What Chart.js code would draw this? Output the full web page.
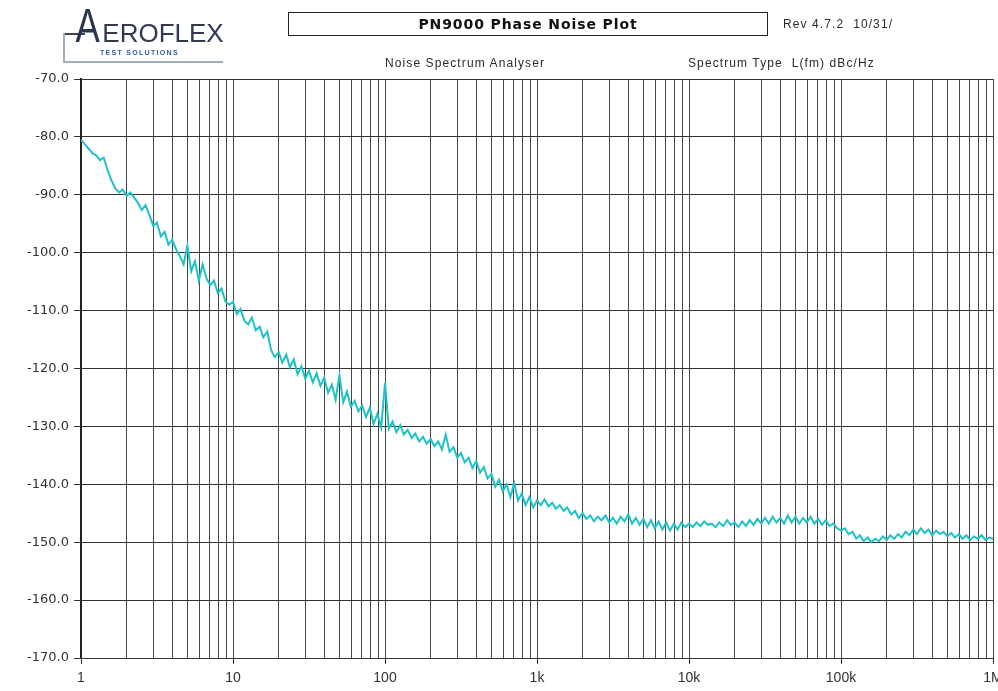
<!DOCTYPE html>
<html>
<head>
<meta charset="utf-8">
<title>PN9000 Phase Noise Plot</title>
<script src="https://cdn.jsdelivr.net/npm/chart.js"></script>
<style>
    html, body { margin: 0; padding: 0; background: #fff; }
    #wrap { position: relative; width: 998px; height: 691px; overflow: hidden; }
    #plot { position: absolute; left: 0; top: 0; }
    .txt { position: absolute; white-space: nowrap; color: #2b2b2b; font-family: "Liberation Sans", Arial, sans-serif; z-index: 2; }
    .line { position: absolute; z-index: 2; }
</style>
</head>
<body>
<div id="wrap">
    <canvas id="plot" width="998" height="691"></canvas>

    <!-- logo -->
    <div class="line" style="left:63px; top:33px; width:22px; height:2px; background:#3d4457;"></div>
    <div class="line" style="left:63px; top:33px; width:2px; height:30px; background:#9db0c2;"></div>
    <div class="line" style="left:63px; top:61px; width:160px; height:2px; background:#9db0c2;"></div>
    <div class="txt" style="left:75px; top:20px; font-size:26px; line-height:26px; color:#333a50;"><span style="display:inline-block; margin:0 6px 0 4px; transform:scale(1.4,1.85); transform-origin:50% 85%; color:#2c3550;">A</span>EROFLEX</div>
    <div class="txt" style="left:100px; top:49px; font-size:7px; line-height:8px; font-weight:bold; letter-spacing:1.3px; color:#2f5da8;">TEST SOLUTIONS</div>

    <!-- header -->
    <div class="txt" style="left:288px; top:12px; width:478px; height:22px; border:1.5px solid #222; text-align:center; font-family:'DejaVu Sans', sans-serif; font-weight:bold; font-size:14px; line-height:22px; letter-spacing:0.9px; color:#111;">PN9000 Phase Noise Plot</div>
    <div class="txt" style="left:783px; top:17px; font-size:12px; line-height:14px; letter-spacing:1.1px;">Rev 4.7.2&nbsp;&nbsp;10/31/</div>
    <div class="txt" style="left:385px; top:56px; font-size:12px; line-height:14px; letter-spacing:1.1px;">Noise Spectrum Analyser</div>
    <div class="txt" style="left:688px; top:56px; font-size:12px; line-height:14px; letter-spacing:1.1px;">Spectrum Type&nbsp;&nbsp;L(fm) dBc/Hz</div>
</div>

<script>
// offset frequency sample steps, same in every decade
const steps = [1.00, 1.06, 1.12, 1.19, 1.26, 1.33, 1.41, 1.50, 1.58, 1.68,
               1.78, 1.88, 2.00, 2.11, 2.24, 2.37, 2.51, 2.66, 2.82, 2.99,
               3.16, 3.35, 3.55, 3.76, 3.98, 4.22, 4.47, 4.73, 5.01, 5.31,
               5.62, 5.96, 6.31, 6.68, 7.08, 7.50, 7.94, 8.41, 8.91, 9.44];
const decades = [1, 10, 100, 1000, 10000, 100000];

// L(fm) in dBc/Hz, one list per decade
const level1 = [-80.5, -81.3, -82.0, -82.8, -83.2, -84.0, -83.6, -85.8, -87.4, -88.9,
                -89.6, -89.1, -90.2, -89.6, -90.5, -91.4, -92.6, -91.8, -93.5, -95.4,
                -94.8, -97.2, -96.4, -98.6, -97.8, -99.4, -100.6, -102.0, -98.8, -103.2,
                -101.5, -104.8, -102.0, -104.4, -105.6, -104.8, -107.0, -106.2, -108.4, -109.0];
const level2 = [-108.5, -110.6, -109.7, -111.8, -112.4, -111.2, -113.4, -112.8, -114.6, -113.6,
                -116.8, -118.0, -117.2, -119.0, -117.6, -119.8, -118.4, -121.0, -119.6, -121.8,
                -120.4, -122.4, -120.8, -123.0, -121.6, -124.2, -122.8, -125.4, -121.2, -125.8,
                -124.0, -126.6, -125.6, -127.4, -126.4, -128.4, -126.8, -129.6, -127.8, -130.2];
const level3 = [-122.5, -130.4, -129.2, -131.0, -129.8, -131.4, -130.6, -132.0, -131.2, -132.6,
                -131.8, -133.0, -132.2, -133.4, -132.6, -134.0, -131.4, -134.4, -133.6, -135.4,
                -134.6, -136.2, -135.4, -137.2, -136.0, -138.0, -137.0, -139.0, -138.2, -140.4,
                -139.2, -141.2, -140.0, -142.2, -139.8, -142.8, -141.6, -143.6, -142.2, -144.0];
const level4 = [-142.8, -143.6, -142.6, -143.8, -143.2, -144.2, -143.6, -144.6, -144.0, -145.2,
                -144.6, -145.8, -145.0, -146.0, -145.4, -146.4, -145.6, -146.2, -145.4, -146.6,
                -145.8, -146.8, -145.6, -146.4, -145.2, -146.8, -145.8, -147.0, -146.0, -147.4,
                -146.2, -147.6, -146.4, -147.8, -146.6, -148.0, -146.8, -147.8, -146.6, -147.4];
const level5 = [-146.8, -147.4, -146.6, -147.2, -146.4, -147.0, -146.8, -147.4, -146.6, -147.2,
                -146.2, -147.0, -146.6, -147.4, -146.4, -147.2, -146.2, -147.0, -146.0, -146.8,
                -145.8, -146.8, -145.6, -146.6, -145.8, -146.8, -145.4, -146.6, -145.6, -146.8,
                -145.8, -146.6, -145.6, -146.8, -146.0, -147.0, -146.2, -147.2, -146.8, -147.6];
const level6 = [-148.0, -147.6, -148.6, -148.2, -149.4, -148.8, -149.8, -149.2, -150.0, -149.4,
                -149.8, -149.0, -149.6, -148.8, -149.4, -148.6, -149.2, -148.2, -148.8, -147.8,
                -148.6, -147.6, -148.4, -147.8, -148.8, -148.0, -148.6, -148.2, -149.0, -148.4,
                -149.2, -148.6, -149.4, -148.8, -149.6, -149.0, -149.4, -148.8, -149.6, -149.2];
const lastFreq = 1000000;
const lastLevel = -149.4;

// axes
const gridSteps = [1, 2, 3, 4, 5, 6, 7, 8, 9];
const decadeTicks = [1, 10, 100, 1000, 10000, 100000, 1000000];
const decadeLabels = ['1', '10', '100', '1k', '10k', '100k', '1M'];
const yMin = -170;
const yMax = -70;
const yStep = 10;

const levels = [level1, level2, level3, level4, level5, level6];
let points = [];
decades.forEach((d, i) => {
    steps.forEach((s, j) => points.push({ x: s * d, y: levels[i][j] }));
});
points.push({ x: lastFreq, y: lastLevel });

let gridFreqs = [];
decades.forEach(d => gridSteps.forEach(s => gridFreqs.push(s * d)));
gridFreqs.push(lastFreq);

function decadeLabel(v) {
    const k = decadeTicks.indexOf(v);
    return k >= 0 ? decadeLabels[k] : '';
}

const ctx = document.getElementById('plot');
let phaseNoiseChart = new Chart(ctx, {
    type: 'line',
    data: {
        datasets: [{
            data: points,
            borderColor: 'rgb(30,194,200)',
            borderWidth: 2,
            pointRadius: 0,
            tension: 0,
            fill: false
        }]
    },
    options: {
        responsive: false,
        animation: false,
        devicePixelRatio: 1,
        layout: { padding: { top: 79, right: 5, left: 0, bottom: 0 } },
        plugins: {
            legend: { display: false },
            tooltip: { enabled: false }
        },
        scales: {
            x: {
                type: 'logarithmic',
                min: 1,
                max: 1000000,
                afterBuildTicks: (scale) => {
                    scale.ticks = gridFreqs.map(v => ({ value: v }));
                },
                afterFit: (scale) => {
                    scale.height = 33;
                    scale.paddingLeft = 0;
                    scale.paddingRight = 0;
                },
                grid: {
                    color: '#454545',
                    lineWidth: 1,
                    tickLength: 6,
                    tickColor: (c) => (c.tick && decadeTicks.indexOf(c.tick.value) >= 0) ? '#333' : 'rgba(0,0,0,0)'
                },
                border: { color: '#333', width: 1 },
                ticks: {
                    autoSkip: false,
                    maxRotation: 0,
                    padding: 6,
                    color: '#333',
                    font: { family: '"Liberation Sans Narrow", "Liberation Sans", Arial', size: 14 },
                    callback: (v) => decadeLabel(v)
                }
            },
            y: {
                min: yMin,
                max: yMax,
                afterFit: (scale) => { scale.width = 81; },
                grid: { color: '#333', lineWidth: 1, tickLength: 7, tickColor: '#333' },
                border: { color: '#222', width: 2 },
                ticks: {
                    stepSize: yStep,
                    padding: 5,
                    color: '#333',
                    font: { family: '"DejaVu Sans", sans-serif', size: 13 },
                    callback: (v) => v.toFixed(1)
                }
            }
        }
    }
});
</script>
</body>
</html>
